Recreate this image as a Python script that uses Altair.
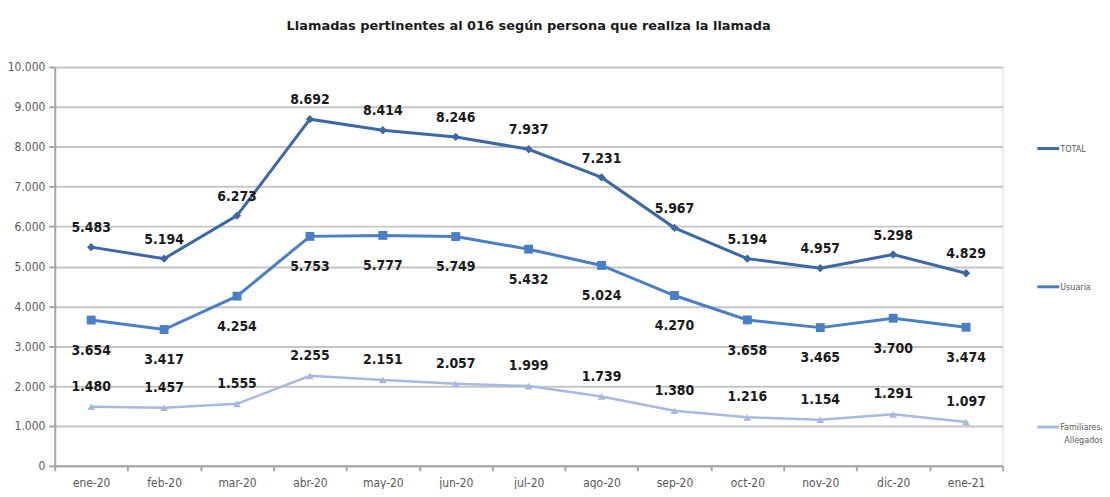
import altair as alt
import pandas as pd

months = ["ene-20", "feb-20", "mar-20", "abr-20", "may-20", "jun-20", "jul-20",
          "ago-20", "sep-20", "oct-20", "nov-20", "dic-20", "ene-21"]
total = [5483, 5194, 6273, 8692, 8414, 8246, 7937, 7231, 5967, 5194, 4957, 5298, 4829]
usuaria = [3654, 3417, 4254, 5753, 5777, 5749, 5432, 5024, 4270, 3658, 3465, 3700, 3474]
familiares = [1480, 1457, 1555, 2255, 2151, 2057, 1999, 1739, 1380, 1216, 1154, 1291, 1097]
series_names = ["TOTAL", "Usuaria", "Familiares/Allegados"]
colors = ["#3c68a5", "#4a7ec6", "#a7b9dd"]

rows = []
for name, vals in zip(series_names, [total, usuaria, familiares]):
    for m, v in zip(months, vals):
        rows.append({"mes": m, "valor": v, "serie": name})
df = pd.DataFrame(rows)

FONT = "DejaVu Sans Condensed"

x_enc = alt.X("mes:N", sort=months, title=None,
              scale=alt.Scale(type="band", paddingInner=0, paddingOuter=0),
              axis=alt.Axis(labelAngle=0, tickBand="extent", domainColor="#a6a6a6",
                            domainWidth=2, tickColor="#a6a6a6", tickWidth=2, tickSize=5,
                            labelColor="#595959", labelFont=FONT, labelFontSize=12,
                            labelPadding=7, grid=False))
y_enc = alt.Y("valor:Q", title=None,
              scale=alt.Scale(domain=[0, 10000], nice=False),
              axis=alt.Axis(values=list(range(0, 10001, 1000)),
                            labelExpr="replace(format(datum.value, ','), ',', '.')",
                            domainColor="#a6a6a6", domainWidth=2, tickColor="#a6a6a6",
                            tickWidth=2, tickSize=6, labelColor="#595959",
                            labelFont=FONT, labelFontSize=12, labelPadding=4,
                            grid=True, gridColor="#c6c6c6", gridWidth=2))

base = alt.Chart(df).transform_calculate(
    etiqueta="replace(format(datum.valor, ','), ',', '.')")

shapes = ["diamond", "square", "triangle-up"]
sizes = [70, 80, 60]
widths = [3, 3, 2.5]
dys = [-19, 31, -20]

layers = []
for name, col, shp, sz, w, dy in zip(series_names, colors, shapes, sizes, widths, dys):
    sub = base.transform_filter(alt.datum.serie == name)
    layers.append(sub.mark_line(color=col, strokeWidth=w).encode(x=x_enc, y=y_enc))
    layers.append(sub.mark_point(shape=shp, filled=True, color=col, size=sz, opacity=1)
                  .encode(x=x_enc, y=y_enc))
    layers.append(sub.mark_text(fontWeight="bold", font=FONT, fontSize=14, color="#1a1a1a",
                                dy=dy).encode(x=x_enc, y=y_enc, text="etiqueta:N"))

# manual legend next to each series
leg_pos = [(82, ["TOTAL"]), (221, ["Usuaria"]), (362, ["Familiares/", "Allegados"])]
for name, col, (ly, lines) in zip(series_names, colors, leg_pos):
    legdf = pd.DataFrame({"serie": [name]})
    layers.append(alt.Chart(legdf).mark_rule(color=col, strokeWidth=3).encode(
        x=alt.value(988), x2=alt.value(1010), y=alt.value(ly)))
    for i, t in enumerate(lines):
        layers.append(alt.Chart(legdf).mark_text(
            align="left", baseline="middle", font=FONT, fontSize=9, color="#595959",
            text=t).encode(x=alt.value(1011 if i == 0 else 1015), y=alt.value(ly + 13 * i)))

chart = alt.layer(*layers).properties(
    width=953, height=401,
    title=alt.TitleParams("Llamadas pertinentes al 016 según persona que realiza la llamada",
                          font="DejaVu Sans", fontSize=13, fontWeight="bold",
                          color="#1a1a1a", anchor="middle", offset=28),
    autosize=alt.AutoSizeParams(type="none"),
    padding={"left": 47, "top": 58, "right": 100, "bottom": 22},
).configure_view(stroke=None).configure(background="white")

chart.save("out.html", embed_options={"renderer": "svg", "actions": False})
